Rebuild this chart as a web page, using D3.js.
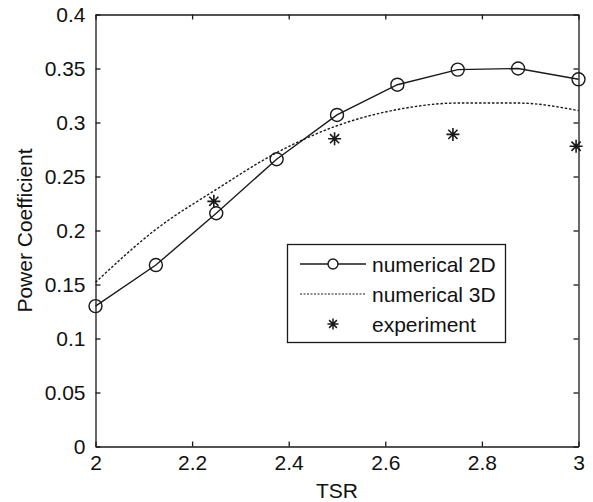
<!DOCTYPE html>
<html>
<head>
<meta charset="utf-8">
<script src="https://cdn.jsdelivr.net/npm/d3@7"></script>
<style>
  body { margin: 0; background: #fff; }
  text { font-family: "Liberation Sans", Arial, sans-serif; fill: #111; }
</style>
</head>
<body>
<div id="grafico"></div>
<script>
// Data
var tsr = [2, 2.125, 2.25, 2.375, 2.5, 2.625, 2.75, 2.875, 3];
var cp2D = [0.130, 0.168, 0.216, 0.266, 0.307, 0.335, 0.349, 0.350, 0.340];
var cp3D = [0.152, 0.201, 0.238, 0.272, 0.297, 0.312, 0.318, 0.318, 0.311];
var expTsr = [2.245, 2.495, 2.74, 2.995];
var expCp = [0.227, 0.285, 0.289, 0.278];
var xTicks = [2, 2.2, 2.4, 2.6, 2.8, 3];
var yTicks = [0, 0.05, 0.1, 0.15, 0.2, 0.25, 0.3, 0.35, 0.4];
var legendLabels = ["numerical 2D", "numerical 3D", "experiment"];

var width = 593;
var height = 502;
var plotLeft = 95.5, plotRight = 578.5, plotTop = 14.5, plotBottom = 446.5;
var ink = "#1a1a1a";
var fontSize = 21;

var svg = d3.select("#grafico")
    .append("svg")
    .attr("width", width)
    .attr("height", height);

var x = d3.scaleLinear().domain([2, 3]).range([plotLeft, plotRight]);
var y = d3.scaleLinear().domain([0, 0.4]).range([plotBottom, plotTop]);

// Axes with inward ticks, mirrored on top and right
function tickFmt(d) { return String(+d.toFixed(2)); }

svg.append("g")
    .attr("transform", "translate(0," + plotBottom + ")")
    .call(d3.axisBottom(x).tickValues(xTicks).tickSizeInner(-5).tickSizeOuter(0).tickPadding(9).tickFormat(tickFmt));
svg.append("g")
    .attr("transform", "translate(0," + plotTop + ")")
    .call(d3.axisTop(x).tickValues(xTicks).tickSizeInner(-5).tickSizeOuter(0).tickFormat(""));
svg.append("g")
    .attr("transform", "translate(" + plotLeft + ",0)")
    .call(d3.axisLeft(y).tickValues(yTicks).tickSizeInner(-5).tickSizeOuter(0).tickPadding(10).tickFormat(tickFmt));
svg.append("g")
    .attr("transform", "translate(" + plotRight + ",0)")
    .call(d3.axisRight(y).tickValues(yTicks).tickSizeInner(-5).tickSizeOuter(0).tickFormat(""));

svg.selectAll(".domain, .tick line").attr("stroke", ink).attr("stroke-width", 1.3);
svg.selectAll(".tick text")
    .attr("font-size", fontSize)
    .attr("font-family", "'Liberation Sans', Arial, sans-serif")
    .attr("fill", ink);

// Axis labels
svg.append("text")
    .attr("x", (plotLeft + plotRight) / 2)
    .attr("y", 498)
    .attr("text-anchor", "middle")
    .attr("font-size", fontSize)
    .text("TSR");

svg.append("text")
    .attr("transform", "translate(32," + (plotTop + plotBottom) / 2 + ") rotate(-90)")
    .attr("text-anchor", "middle")
    .attr("font-size", fontSize)
    .text("Power Coefficient");

// Curves
var line2D = d3.line()
    .x(function(d, i) { return x(tsr[i]); })
    .y(function(d) { return y(d); });

var line3D = d3.line()
    .x(function(d, i) { return x(tsr[i]); })
    .y(function(d) { return y(d); })
    .curve(d3.curveMonotoneX);

svg.append("path")
    .attr("d", line3D(cp3D))
    .attr("fill", "none")
    .attr("stroke", ink)
    .attr("stroke-width", 1.4)
    .attr("stroke-dasharray", "2.5,1.8");

svg.append("path")
    .attr("d", line2D(cp2D))
    .attr("fill", "none")
    .attr("stroke", ink)
    .attr("stroke-width", 1.4);

svg.selectAll(".circulo")
    .data(cp2D)
    .enter()
    .append("circle")
    .attr("class", "circulo")
    .attr("cx", function(d, i) { return x(tsr[i]); })
    .attr("cy", function(d) { return y(d); })
    .attr("r", 6.5)
    .attr("fill", "none")
    .attr("stroke", ink)
    .attr("stroke-width", 1.4);

// Asterisk marker (plus + cross)
function asterisk(s) {
    var a = s * 0.7071;
    return "M" + (-s) + ",0L" + s + ",0M0," + (-s) + "L0," + s +
        "M" + (-a) + "," + (-a) + "L" + a + "," + a +
        "M" + (-a) + "," + a + "L" + a + "," + (-a);
}

svg.selectAll(".estrella")
    .data(expCp)
    .enter()
    .append("path")
    .attr("class", "estrella")
    .attr("transform", function(d, i) { return "translate(" + x(expTsr[i]) + "," + y(d) + ")"; })
    .attr("d", asterisk(6.5))
    .attr("fill", "none")
    .attr("stroke", ink)
    .attr("stroke-width", 1.6);

// Legend
var legend = svg.append("g");
legend.append("rect")
    .attr("x", 287.5)
    .attr("y", 244.5)
    .attr("width", 218)
    .attr("height", 98)
    .attr("fill", "#fff")
    .attr("stroke", ink)
    .attr("stroke-width", 1.3);

var rowY = [264, 294, 324];

legend.append("line")
    .attr("x1", 300).attr("x2", 366)
    .attr("y1", rowY[0]).attr("y2", rowY[0])
    .attr("stroke", ink).attr("stroke-width", 1.4);
legend.append("circle")
    .attr("cx", 333).attr("cy", rowY[0]).attr("r", 5)
    .attr("fill", "#fff").attr("stroke", ink).attr("stroke-width", 1.4);

legend.append("line")
    .attr("x1", 300).attr("x2", 366)
    .attr("y1", rowY[1]).attr("y2", rowY[1])
    .attr("stroke", ink).attr("stroke-width", 1.2)
    .attr("stroke-dasharray", "2,1.5");

legend.append("path")
    .attr("transform", "translate(333," + rowY[2] + ")")
    .attr("d", asterisk(5.5))
    .attr("fill", "none")
    .attr("stroke", ink)
    .attr("stroke-width", 1.5);

legend.selectAll(".etiqueta")
    .data(legendLabels)
    .enter()
    .append("text")
    .attr("class", "etiqueta")
    .attr("x", 372)
    .attr("y", function(d, i) { return rowY[i] + 7.5; })
    .attr("font-size", fontSize)
    .text(function(d) { return d; });
</script>
</body>
</html>
